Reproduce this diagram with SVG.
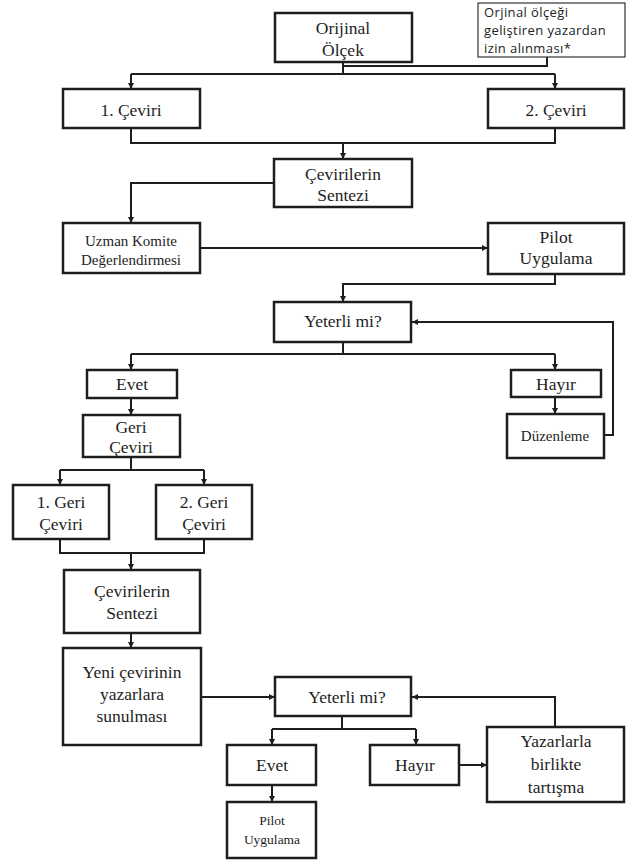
<svg xmlns="http://www.w3.org/2000/svg" width="638" height="860" viewBox="0 0 638 860">
<style>
.box{fill:#fff;stroke:#1e1e1e;stroke-width:2.5}
.note{fill:#fff;stroke:#333;stroke-width:1.2}
.t{font-family:"Times New Roman","Liberation Serif","DejaVu Serif",serif;font-size:17.5px;fill:#1e1e1e;text-anchor:middle}
.s{font-size:15px}
.xs{font-size:13.5px}
.n{font-family:"Open Sans","Liberation Sans",sans-serif;font-size:13px;letter-spacing:0.4px;fill:#222}
.c{fill:none;stroke:#1e1e1e;stroke-width:2}
.a{fill:none;stroke:#1e1e1e;stroke-width:2;marker-end:url(#ah)}
</style>
<defs>
<marker id="ah" markerUnits="userSpaceOnUse" markerWidth="8" markerHeight="8" refX="6" refY="3" orient="auto">
<path d="M0,0 L6,3 L0,6 Z" fill="#1e1e1e"/>
</marker>
</defs>
<rect width="638" height="860" fill="#fff"/>
<g id="connectors">
<path class="c" d="M343,62 V74"/>
<path class="c" d="M547,57 V66 H343"/>
<path class="c" d="M131,74 H555"/>
<path class="a" d="M131,74 V89"/>
<path class="a" d="M555,74 V89"/>
<path class="c" d="M131,128 V143 H555 V128"/>
<path class="a" d="M343,143 V159"/>
<path class="a" d="M274,183 H131 V223"/>
<path class="a" d="M200,248 H488"/>
<path class="a" d="M555,274 V284 H343 V302"/>
<path class="c" d="M343,342 V354"/>
<path class="c" d="M131,354 H555"/>
<path class="a" d="M131,354 V370"/>
<path class="a" d="M555,354 V370"/>
<path class="a" d="M131,398 V415"/>
<path class="a" d="M555,397 V414"/>
<path class="a" d="M604,435 H613 V322 H412"/>
<path class="c" d="M131,457 V470"/>
<path class="c" d="M60,470 H204"/>
<path class="a" d="M60,470 V485"/>
<path class="a" d="M204,470 V485"/>
<path class="c" d="M60,539 V553 H204 V539"/>
<path class="a" d="M131,553 V570"/>
<path class="a" d="M131,633 V648"/>
<path class="a" d="M201,697 H275"/>
<path class="c" d="M342,716 V729"/>
<path class="c" d="M272,729 H416"/>
<path class="a" d="M272,729 V745"/>
<path class="a" d="M416,729 V745"/>
<path class="a" d="M272,785 V802"/>
<path class="a" d="M459,765 H487"/>
<path class="a" d="M555,727 V697 H412"/>
</g>
<g id="orijinal"><rect class="box" x="275" y="13" width="137" height="49"/><text class="t" x="343" y="34">Orijinal</text><text class="t" x="343" y="56">Ölçek</text></g>
<g id="note"><rect class="note" x="478" y="3" width="147" height="54"/><text class="n" x="484" y="17">Orjinal ölçeği</text><text class="n" x="484" y="35">geliştiren yazardan</text><text class="n" x="484" y="53">izin alınması*</text></g>
<g id="ceviri1"><rect class="box" x="63" y="89" width="137" height="39"/><text class="t" x="131" y="116">1. Çeviri</text></g>
<g id="ceviri2"><rect class="box" x="488" y="89" width="136" height="39"/><text class="t" x="556" y="116">2. Çeviri</text></g>
<g id="sentez1"><rect class="box" x="274" y="159" width="138" height="48"/><text class="t" x="343" y="180">Çevirilerin</text><text class="t" x="343" y="201">Sentezi</text></g>
<g id="uzman"><rect class="box" x="63" y="223" width="137" height="50"/><text class="t s" x="131" y="246">Uzman Komite</text><text class="t s" x="131" y="265">Değerlendirmesi</text></g>
<g id="pilot1"><rect class="box" x="488" y="223" width="136" height="51"/><text class="t" x="556" y="243">Pilot</text><text class="t" x="556" y="264">Uygulama</text></g>
<g id="yeterli1"><rect class="box" x="274" y="302" width="137" height="40"/><text class="t" x="343" y="327">Yeterli mi?</text></g>
<g id="evet1"><rect class="box" x="87" y="370" width="90" height="28"/><text class="t" x="132" y="390">Evet</text></g>
<g id="hayir1"><rect class="box" x="511" y="370" width="90" height="27"/><text class="t" x="556" y="390">Hayır</text></g>
<g id="geri"><rect class="box" x="83" y="415" width="97" height="42"/><text class="t" x="131" y="433">Geri</text><text class="t" x="131" y="453">Çeviri</text></g>
<g id="duzenleme"><rect class="box" x="507" y="414" width="97" height="44"/><text class="t s" x="555" y="441">Düzenleme</text></g>
<g id="geri1"><rect class="box" x="13" y="485" width="96" height="54"/><text class="t" x="61" y="508">1. Geri</text><text class="t" x="61" y="530">Çeviri</text></g>
<g id="geri2"><rect class="box" x="156" y="485" width="96" height="54"/><text class="t" x="204" y="508">2. Geri</text><text class="t" x="204" y="530">Çeviri</text></g>
<g id="sentez2"><rect class="box" x="64" y="570" width="136" height="63"/><text class="t" x="132" y="597">Çevirilerin</text><text class="t" x="132" y="619">Sentezi</text></g>
<g id="yeni"><rect class="box" x="63" y="648" width="138" height="97"/><text class="t" x="132" y="678">Yeni çevirinin</text><text class="t" x="132" y="700">yazarlara</text><text class="t" x="132" y="722">sunulması</text></g>
<g id="yeterli2"><rect class="box" x="275" y="677" width="136" height="39"/><text class="t" x="347" y="703">Yeterli mi?</text></g>
<g id="evet2"><rect class="box" x="227" y="745" width="89" height="40"/><text class="t" x="272" y="771">Evet</text></g>
<g id="hayir2"><rect class="box" x="370" y="745" width="89" height="40"/><text class="t" x="415" y="771">Hayır</text></g>
<g id="yazarlarla"><rect class="box" x="487" y="727" width="137" height="75"/><text class="t" x="556" y="747">Yazarlarla</text><text class="t" x="556" y="770">birlikte</text><text class="t" x="556" y="793">tartışma</text></g>
<g id="pilot2"><rect class="box" x="227" y="802" width="89" height="56"/><text class="t xs" x="272" y="825">Pilot</text><text class="t xs" x="272" y="844">Uygulama</text></g>
</svg>
